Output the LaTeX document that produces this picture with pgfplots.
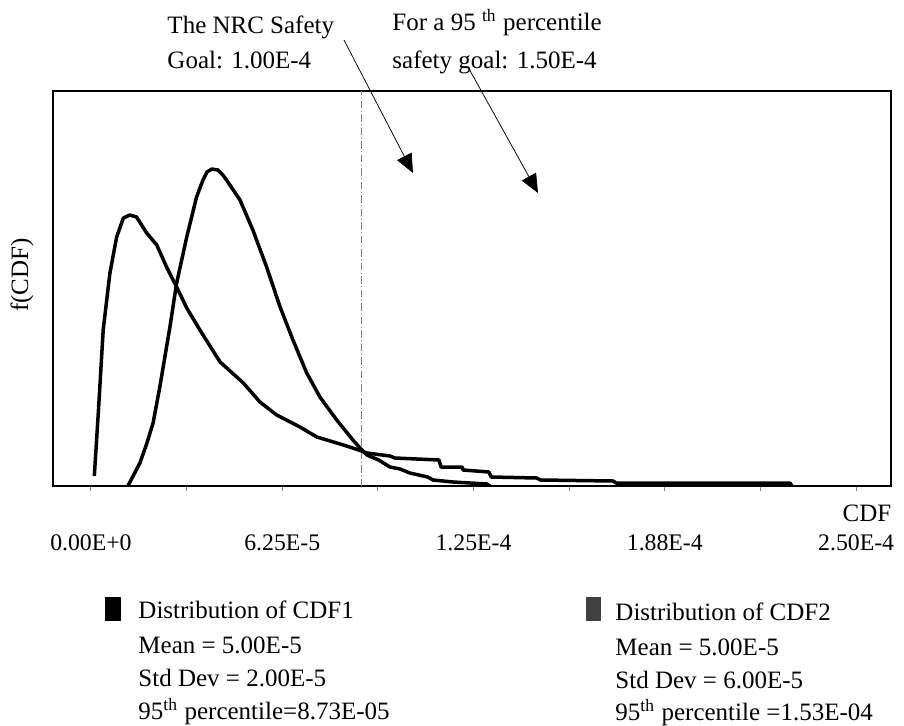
\documentclass[border=0pt]{standalone}
\usepackage{fontspec}
\setmainfont{Liberation Serif}
\usepackage{pgfplots}
\pgfplotsset{compat=1.18}
\usetikzlibrary{arrows.meta}

% x in units of 1E-5, y in arbitrary density units
\pgfplotstableread{
x y
1.21 0
1.24 2
1.60 23
1.83 43
1.93 53
2.03 63
2.25 99
2.58 159
2.80 203
3.13 249
3.45 289
3.66 306
3.79 314
3.95 317
4.15 316
4.31 311
4.43 306
4.87 286
5.29 256
5.74 219
6.18 179
6.60 146
7.05 113
7.48 89
8.03 66
8.56 46
8.85 36
9.02 31
9.40 26
9.77 19
10.10 17
10.42 13
11.00 9
11.18 6
11.83 4
12.94 2
13.04 0
}\cdfone

\pgfplotstableread{
x y
0.11 10
0.24 73
0.40 156
0.62 213
0.84 249
1.06 268
1.27 271
1.49 269
1.82 253
2.15 241
2.47 219
2.80 199
3.13 178
3.56 156
4.22 124
4.98 103
5.52 84
6.07 71
6.83 59
7.38 49
8.25 41
8.85 35
9.02 33
9.77 30
9.93 28
11.37 26
11.44 19
12.13 19
12.16 16
13.00 14
13.08 9
14.56 8
14.69 6
17.06 5
17.16 3
22.84 3
22.90 0
}\cdftwo

\begin{document}
\begin{tikzpicture}[font=\fontsize{10}{12}\selectfont]
\useasboundingbox (-21.2pt,-95.6pt) rectangle (340.4pt,194.4pt);
\begin{axis}[
    at={(0,0)}, anchor=south west,
    width=335.2pt, height=158pt, scale only axis,
    xmin=-1.24, xmax=26.14, ymin=0, ymax=395,
    ytick=\empty,
    xtick={0,3.125,6.25,9.375,12.5,15.625,18.75,21.875,25},
    xticklabels={0.00E+0,,6.25E-5,,1.25E-4,,1.88E-4,,2.50E-4},
    xtick pos=bottom,
    tick align=outside,
    major tick length=1.8pt,
    xtick style={gray, thin},
    xticklabel style={font=\fontsize{9.5}{11}\selectfont, yshift=-14pt},
    axis line style={line width=0.8pt},
]
\addplot[gray, thin, densely dashdotted] coordinates {(8.85,0) (8.85,395)};
\addplot[black, line width=1.4pt, line join=round] table[x=x,y=y] {\cdftwo};
\addplot[black, line width=1.4pt, line join=round] table[x=x,y=y] {\cdfone};
\end{axis}

\begin{scope}[x=0.4pt, y=-0.4pt, shift={(-21.2pt,194.4pt)}]
% annotations
\node[anchor=west, inner sep=0pt] at (167,27) {The NRC Safety};
\node[anchor=west, inner sep=0pt] at (167,60) {Goal: 1.00E-4};
\node[anchor=west, inner sep=0pt] at (392,23) {For a 95 \textsuperscript{th} percentile};
\node[anchor=west, inner sep=0pt] at (392,62) {safety goal: 1.50E-4};
\draw[line width=0.3pt, -{Triangle[length=7.5pt,width=6.5pt]}] (344,40) -- (413,173);
\draw[line width=0.3pt, -{Triangle[length=7.5pt,width=6.5pt]}] (468,67) -- (538,193);
% axis titles
\node[inner sep=0pt] at (867,513) {CDF};
\node[rotate=90, inner sep=0pt] at (22,275) {f(CDF)};
% legend
\fill[black] (105,597) rectangle (121,621);
\fill[black!75] (586,597) rectangle (601,621);
\node[anchor=west, inner sep=0pt] at (138,610) {Distribution of CDF1};
\node[anchor=west, inner sep=0pt] at (138,645) {Mean = 5.00E-5};
\node[anchor=west, inner sep=0pt] at (138,678) {Std Dev = 2.00E-5};
\node[anchor=west, inner sep=0pt] at (138,712) {95\textsuperscript{th} percentile=8.73E-05};
\node[anchor=west, inner sep=0pt] at (615,612) {Distribution of CDF2};
\node[anchor=west, inner sep=0pt] at (615,647) {Mean = 5.00E-5};
\node[anchor=west, inner sep=0pt] at (615,680) {Std Dev = 6.00E-5};
\node[anchor=west, inner sep=0pt] at (615,713) {95\textsuperscript{th} percentile =1.53E-04};
\end{scope}
\end{tikzpicture}
\end{document}
